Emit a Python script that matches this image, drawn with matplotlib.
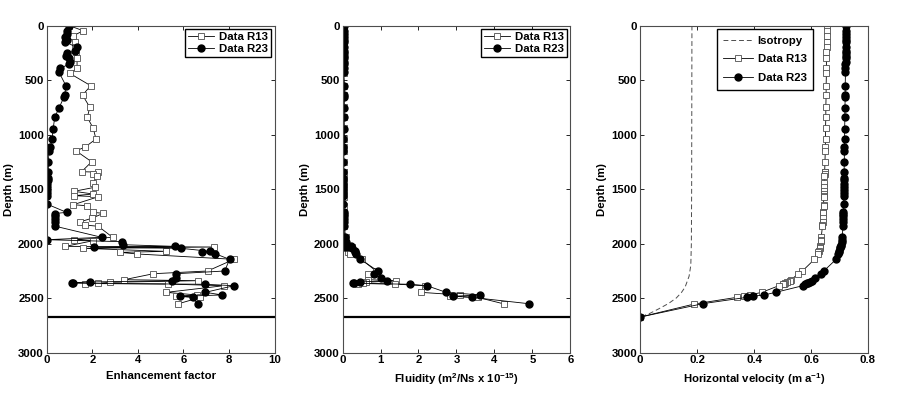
import numpy as np
import matplotlib.pyplot as plt

plt.rcParams['font.family'] = ['Liberation Sans', 'DejaVu Sans']
plt.rcParams['font.weight'] = 'bold'
plt.rcParams['font.size'] = 8.2
plt.rcParams['axes.labelweight'] = 'bold'
plt.rcParams['mathtext.fontset'] = 'custom'
plt.rcParams['mathtext.rm'] = 'Liberation Sans:bold'
plt.rcParams['mathtext.default'] = 'rm'

# sample depths (m)
depth_r13 = [0, 48, 94, 149, 200, 246, 301, 393, 439, 552, 638, 750, 842, 943, 1041,
             1117, 1149, 1250, 1341, 1345, 1362, 1378, 1445, 1484, 1521, 1546, 1561,
             1571, 1644, 1653, 1714, 1723, 1769, 1800, 1830, 1842, 1943, 1965, 1974,
             2026, 2032, 2044, 2072, 2081, 2096, 2145, 2252, 2277, 2332, 2341, 2356,
             2365, 2367, 2372, 2387, 2448, 2472, 2484, 2494, 2555]
depth_r23 = [0, 48, 78, 108, 130, 149, 200, 231, 255, 277, 301, 338, 353, 393, 429,
             552, 638, 659, 760, 842, 950, 1041, 1117, 1149, 1255, 1347, 1400, 1420,
             1450, 1480, 1510, 1540, 1565, 1640, 1714, 1725, 1750, 1775, 1800, 1840,
             1943, 1965, 1983, 2011, 2026, 2035, 2044, 2072, 2081, 2094, 2145, 2252,
             2277, 2317, 2341, 2353, 2360, 2364, 2374, 2387, 2448, 2472, 2484, 2494, 2552]
bed_depth = 2675

# enhancement factor
enh_r13 = [0.98, 1.60, 1.16, 1.23, 1.26, 1.28, 1.33, 1.33, 1.01, 1.93, 1.57, 1.89, 1.78,
           2.04, 2.16, 1.67, 1.28, 1.97, 1.53, 2.23, 2.04, 2.19, 2.04, 2.11, 1.20, 2.04,
           1.19, 2.26, 1.16, 1.75, 2.04, 2.48, 1.97, 1.48, 1.67, 2.26, 2.89, 1.19, 2.04,
           0.82, 7.33, 1.60, 5.23, 3.22, 3.98, 8.21, 7.06, 4.68, 3.40, 6.62, 2.78, 2.26,
           1.67, 5.34, 7.77, 5.24, 6.59, 5.68, 6.74, 5.74]
enh_r23 = [0.98, 0.87, 0.91, 0.79, 0.87, 0.81, 1.31, 1.26, 0.87, 0.84, 0.98, 1.04, 0.98,
           0.60, 0.54, 0.84, 0.79, 0.75, 0.53, 0.35, 0.28, 0.23, 0.16, 0.10, 0.07, 0.07,
           0.05, 0.04, 0.03, 0.03, 0.03, 0.03, 0.03, 0.03, 0.87, 0.35, 0.35, 0.36, 0.35,
           0.35, 2.41, 0.01, 3.29, 3.36, 5.61, 2.07, 5.89, 7.18, 6.81, 7.40, 8.02, 7.81,
           5.68, 5.68, 5.49, 1.89, 1.09, 1.16, 6.96, 8.21, 6.96, 7.70, 5.86, 6.40, 6.62]

# fluidity (m2/Ns x 1e-15)
flu_r13 = [0.04, 0.05, 0.04, 0.04, 0.04, 0.04, 0.04, 0.04, 0.03, 0.05, 0.04, 0.05, 0.04,
           0.05, 0.05, 0.04, 0.03, 0.04, 0.03, 0.04, 0.04, 0.04, 0.04, 0.04, 0.02, 0.04,
           0.02, 0.04, 0.02, 0.03, 0.04, 0.05, 0.04, 0.03, 0.04, 0.05, 0.08, 0.03, 0.06,
           0.04, 0.25, 0.07, 0.24, 0.15, 0.20, 0.50, 0.88, 0.67, 0.68, 1.41, 0.62, 0.55,
           0.42, 1.37, 2.16, 2.07, 3.08, 2.82, 3.56, 4.26]
flu_r23 = [0.04, 0.04, 0.04, 0.04, 0.04, 0.04, 0.05, 0.05, 0.04, 0.04, 0.04, 0.04, 0.04,
           0.03, 0.03, 0.04, 0.04, 0.04, 0.03, 0.03, 0.03, 0.02, 0.02, 0.02, 0.02, 0.02,
           0.02, 0.02, 0.02, 0.02, 0.02, 0.02, 0.02, 0.02, 0.04, 0.03, 0.03, 0.03, 0.03,
           0.03, 0.06, 0.00, 0.09, 0.10, 0.22, 0.09, 0.25, 0.33, 0.32, 0.36, 0.47, 0.93,
           0.82, 1.00, 1.16, 0.45, 0.27, 0.29, 1.78, 2.22, 2.73, 3.61, 2.92, 3.40, 4.90]

# horizontal velocity (m/a), last value is at the bed
vel_r13 = [0.655, 0.655, 0.655, 0.655, 0.655, 0.654, 0.654, 0.654, 0.654, 0.653, 0.653,
           0.652, 0.652, 0.651, 0.651, 0.650, 0.650, 0.649, 0.648, 0.648, 0.648, 0.647,
           0.647, 0.646, 0.646, 0.645, 0.645, 0.645, 0.644, 0.644, 0.643, 0.643, 0.642,
           0.641, 0.640, 0.640, 0.636, 0.635, 0.634, 0.632, 0.631, 0.630, 0.628, 0.626,
           0.623, 0.612, 0.570, 0.556, 0.530, 0.525, 0.515, 0.508, 0.506, 0.500, 0.487,
           0.427, 0.385, 0.365, 0.339, 0.190, 0.0]
vel_r23 = [0.723, 0.723, 0.723, 0.723, 0.723, 0.723, 0.722, 0.722, 0.722, 0.722, 0.722,
           0.722, 0.721, 0.721, 0.721, 0.720, 0.720, 0.720, 0.719, 0.719, 0.718, 0.718,
           0.717, 0.717, 0.717, 0.716, 0.716, 0.716, 0.716, 0.716, 0.715, 0.715, 0.715,
           0.715, 0.714, 0.714, 0.714, 0.713, 0.713, 0.712, 0.710, 0.709, 0.708, 0.706,
           0.704, 0.703, 0.702, 0.700, 0.698, 0.696, 0.688, 0.645, 0.636, 0.615, 0.603,
           0.595, 0.590, 0.587, 0.580, 0.571, 0.476, 0.435, 0.395, 0.374, 0.220, 0.0]
iso_depth = [0, 1500, 2000, 2200, 2300, 2400, 2450, 2500, 2550, 2600, 2640, 2675]
iso_vel = [0.182, 0.181, 0.180, 0.178, 0.172, 0.158, 0.145, 0.127, 0.100, 0.065, 0.035, 0.0]

fig = plt.figure(figsize=(8.99, 3.99), dpi=100)
lefts = [0.052, 0.381, 0.712]
axes = [fig.add_axes([l, 0.1165, 0.2535, 0.8195]) for l in lefts]

r13_style = dict(color='k', lw=0.6, marker='s', ms=4, mfc='w', mec='0.3', mew=0.6)
r23_style = dict(color='k', lw=0.6, marker='o', ms=5, mfc='k', mec='k')

ax = axes[0]
ax.plot(enh_r13, depth_r13, label='Data R13', **r13_style)
ax.plot(enh_r23, depth_r23, label='Data R23', **r23_style)
ax.axhline(bed_depth, color='k', lw=1.6)
ax.set_xlim(0, 10)
ax.set_xticks(np.arange(0, 11, 2))
ax.set_xlabel('Enhancement factor')

ax = axes[1]
ax.plot(flu_r13, depth_r13, label='Data R13', **r13_style)
ax.plot(flu_r23, depth_r23, label='Data R23', **r23_style)
ax.axhline(bed_depth, color='k', lw=1.6)
ax.set_xlim(0, 6)
ax.set_xticks(np.arange(0, 7, 1))
ax.set_xlabel('Fluidity (m$^2$/Ns x 10$^{-15}$)')

ax = axes[2]
ax.plot(iso_vel, iso_depth, color='0.3', lw=0.7, dashes=(5, 3), label='Isotropy')
ax.plot(vel_r13, depth_r13 + [bed_depth], label='Data R13', **r13_style)
ax.plot(vel_r23, depth_r23 + [bed_depth], label='Data R23', **r23_style)
ax.set_xlim(0, 0.8)
ax.set_xticks([0, 0.2, 0.4, 0.6, 0.8])
ax.set_xticklabels(['0', '0.2', '0.4', '0.6', '0.8'])
ax.set_xlabel('Horizontal velocity (m a$^{-1}$)')

for ax in axes:
    ax.set_ylim(3000, 0)
    ax.set_yticks(np.arange(0, 3001, 500))
    ax.set_ylabel('Depth (m)', labelpad=3)
    ax.tick_params(direction='in', top=True, right=True, length=3, width=0.6, pad=2)
    for s in ax.spines.values():
        s.set_linewidth(0.8)
        s.set_color('0.3')

leg_opts = dict(fancybox=False, edgecolor='k', framealpha=1, handletextpad=0.4)
axes[0].legend(loc='upper right', labelspacing=0.15, borderaxespad=0.3,
               borderpad=0.3, handlelength=2.3, **leg_opts)
axes[1].legend(loc='upper right', labelspacing=0.15, borderaxespad=0.3,
               borderpad=0.3, handlelength=2.3, **leg_opts)
axes[2].legend(loc='upper left', bbox_to_anchor=(0.336, 0.99), labelspacing=0.75,
               borderaxespad=0, borderpad=0.6, handlelength=2.6, **leg_opts)

fig.savefig('out.png', dpi=100)
